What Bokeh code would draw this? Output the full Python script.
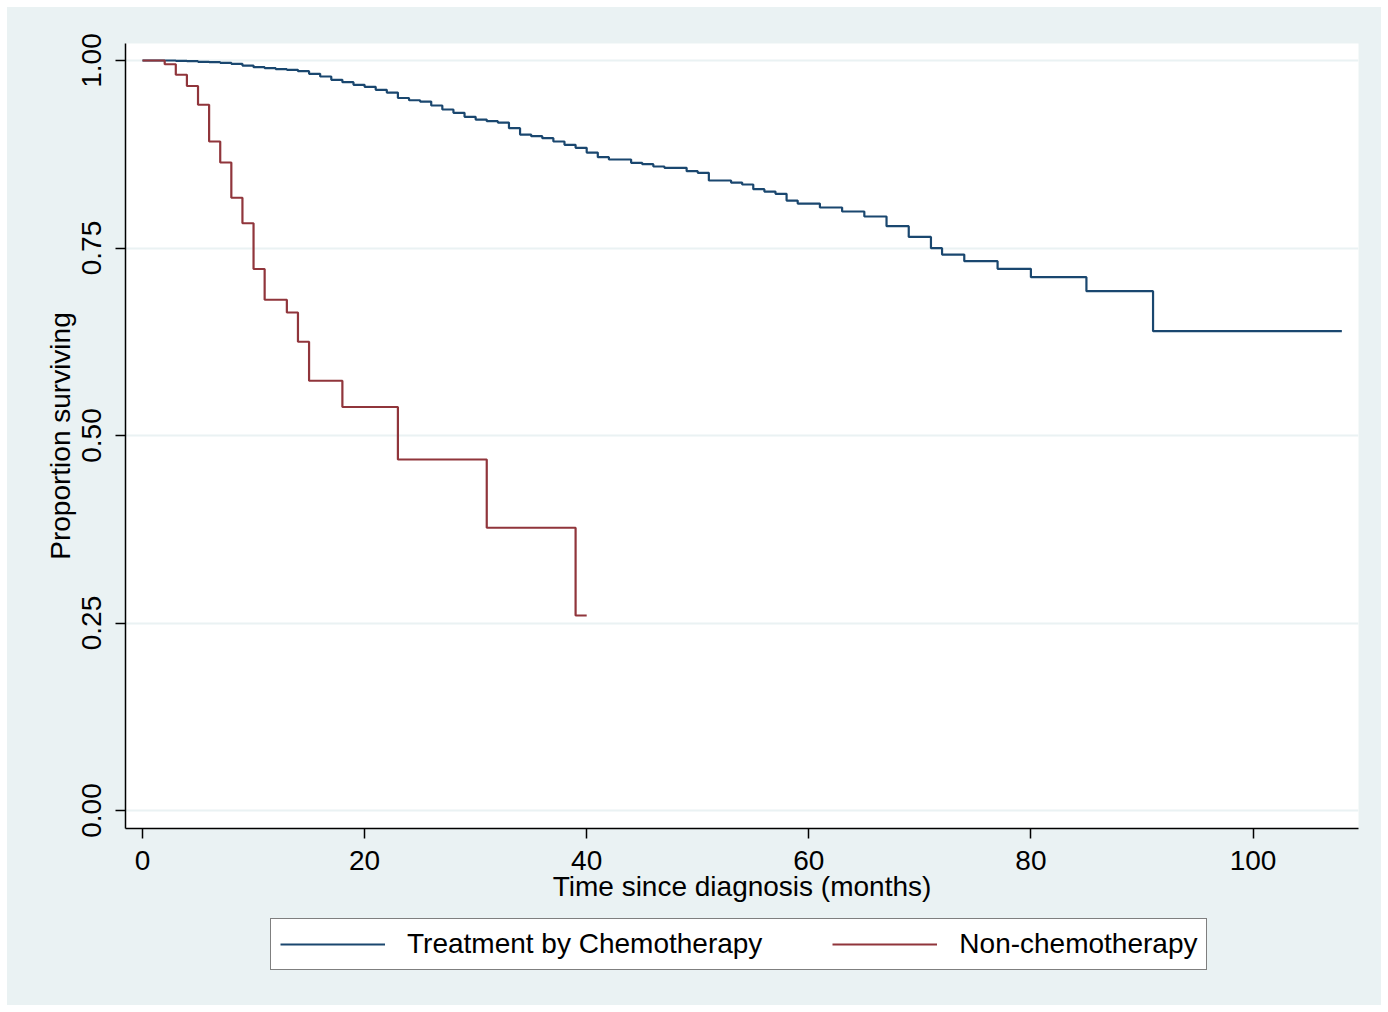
from bokeh.plotting import figure
from bokeh.layouts import column
from bokeh.models import (FixedTicker, NumeralTickFormatter, Legend, LegendItem,
                          Range1d)
from bokeh.embed import file_html
from bokeh.resources import INLINE

# ---- data ----
chemo_time = [0, 3, 4, 5, 6, 7, 8, 9, 10, 11, 12, 13, 14, 15, 16, 17, 18, 19, 20, 21,
              22, 23, 24, 25, 26, 27, 28, 29, 30, 31, 32, 33, 34, 35, 36, 37, 38, 39,
              40, 41, 42, 44, 45, 46, 47, 49, 50, 51, 53, 54, 55, 56, 57, 58, 59, 61,
              63, 65, 67, 69, 71, 72, 74, 77, 80, 85, 91, 108]
chemo_surv = [1.000, 0.9996, 0.9991, 0.9982, 0.9978, 0.9969, 0.9956, 0.9933, 0.9911,
              0.9898, 0.9884, 0.9876, 0.9858, 0.9822, 0.9787, 0.9742, 0.9711, 0.9676,
              0.9649, 0.9609, 0.9573, 0.9500, 0.9470, 0.9453, 0.9400, 0.9347, 0.9302,
              0.9249, 0.9213, 0.9191, 0.9173, 0.9098, 0.9013, 0.8991, 0.8964, 0.8920,
              0.8876, 0.8836, 0.8773, 0.8711, 0.8680, 0.8636, 0.8618, 0.8587, 0.8569,
              0.8524, 0.8502, 0.8400, 0.8373, 0.8347, 0.8284, 0.8253, 0.8222, 0.8133,
              0.8093, 0.8040, 0.7987, 0.7920, 0.7791, 0.7648, 0.7498, 0.7413, 0.7324,
              0.7222, 0.7111, 0.6924, 0.6391, 0.6391]

nonchemo_time = [0, 2, 3, 4, 5, 6, 7, 8, 9, 10, 11, 13, 14, 15, 18, 23, 31, 39, 40]
nonchemo_surv = [1.000, 0.995, 0.981, 0.966, 0.941, 0.892, 0.864, 0.817, 0.783, 0.722,
                 0.681, 0.664, 0.625, 0.573, 0.538, 0.468, 0.377, 0.260, 0.260]

x_ticks = [0, 20, 40, 60, 80, 100]
y_ticks = [0.0, 0.25, 0.5, 0.75, 1.0]
series_names = ["Treatment by Chemotherapy", "Non-chemotherapy"]

# ---- style ----
BG = "#EAF2F3"
BLUE = "#1A476F"
RED = "#90353B"
FONT = "Liberation Sans"

p = figure(frame_width=1233, frame_height=785, output_backend="svg",
           toolbar_location=None,
           x_range=Range1d(-1.53, 109.5), y_range=Range1d(-0.024, 1.0227),
           min_border_left=118, min_border_right=23, min_border_top=36,
           min_border_bottom=85)
p.border_fill_color = BG
p.background_fill_color = "white"
p.outline_line_color = None

p.step(chemo_time, chemo_surv, mode="after", line_color=BLUE, line_width=2.2)
p.step(nonchemo_time, nonchemo_surv, mode="after", line_color=RED, line_width=2.2)

# axes
p.xaxis.ticker = FixedTicker(ticks=x_ticks)
p.yaxis.ticker = FixedTicker(ticks=y_ticks)
p.yaxis.formatter = NumeralTickFormatter(format="0.00")
p.xaxis.axis_label = "Time since diagnosis (months)"
p.yaxis.axis_label = "Proportion surviving"
for ax in (p.xaxis, p.yaxis):
    ax.axis_line_color = "black"
    ax.axis_line_width = 1.5
    ax.major_tick_line_color = "black"
    ax.major_tick_line_width = 1.5
    ax.major_tick_out = 10
    ax.major_tick_in = 0
    ax.minor_tick_line_color = None
    ax.major_label_text_font = FONT
    ax.major_label_text_font_size = "28px"
    ax.major_label_text_color = "black"
    ax.axis_label_text_font = FONT
    ax.axis_label_text_font_size = "28px"
    ax.axis_label_text_font_style = "normal"
    ax.axis_label_text_color = "black"
p.yaxis.major_label_orientation = "parallel"
p.xaxis.major_label_standoff = 12
p.yaxis.major_label_standoff = 14
p.xaxis.axis_label_standoff = -2
p.yaxis.axis_label_standoff = 4

p.xgrid.grid_line_color = None
p.ygrid.grid_line_color = BG
p.ygrid.grid_line_width = 2

# ---- legend holder (continues the light background below the plot) ----
p2 = figure(frame_width=1374, frame_height=92, output_backend="svg",
            toolbar_location=None, x_axis_type=None, y_axis_type=None,
            x_range=Range1d(0, 1), y_range=Range1d(0, 1),
            min_border_left=0, min_border_right=0, min_border_top=0,
            min_border_bottom=0)
p2.border_fill_color = BG
p2.background_fill_color = BG
p2.outline_line_color = None
p2.xgrid.grid_line_color = None
p2.ygrid.grid_line_color = None
# keys drawn outside the visible range: only their legend swatches show
k1 = p2.line([-5, -4], [-5, -4], line_color=BLUE, line_width=2.2)
k2 = p2.line([-5, -4], [-5, -4], line_color=RED, line_width=2.2)

legend = Legend(items=[LegendItem(label=series_names[0], renderers=[k1]),
                       LegendItem(label=series_names[1], renderers=[k2])],
                orientation="horizontal", location=(263, 35))
legend.label_text_font = FONT
legend.label_text_font_size = "28px"
legend.label_text_color = "black"
legend.glyph_width = 105
legend.glyph_height = 24
legend.label_standoff = 22
legend.spacing = 70
legend.padding = 9
legend.margin = 0
legend.border_line_color = "black"
legend.border_line_width = 1.5
legend.background_fill_color = "white"
legend.background_fill_alpha = 1.0
p2.add_layout(legend, "center")

layout = column(p, p2, spacing=0)
layout.margin = (7, 7, 7, 7)
layout.styles = {"background-color": BG}

open("out.html", "w").write(file_html(layout, INLINE))
